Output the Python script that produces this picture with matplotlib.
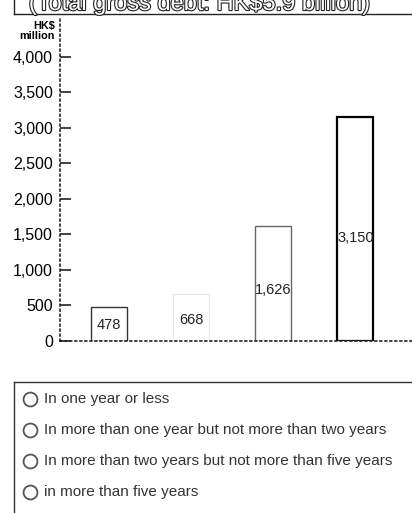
import matplotlib
matplotlib.use("Agg")
import matplotlib.pyplot as plt
import matplotlib.patheffects as pe

# data
periods = [
    "In one year or less",
    "In more than one year but not more than two years",
    "In more than two years but not more than five years",
    "in more than five years",
]
debt = [478, 668, 1626, 3150]
debt_labels = ["478", "668", "1,626", "3,150"]
label_heights = [225, 290, 720, 1450]
yticks = [0, 500, 1000, 1500, 2000, 2500, 3000, 3500, 4000]
title = "(Total gross debt: HK$5.9 billion)"

plt.rcParams["font.family"] = ["Liberation Sans", "DejaVu Sans"]

W, H = 412, 513
fig = plt.figure(figsize=(W / 100, H / 100), dpi=100)

# title box, cut off at the top as in the source
fig.text(200 / W, 1 - 10 / H, title, ha="center", va="baseline", fontsize=17,
         color="white",
         path_effects=[pe.withStroke(linewidth=1.6, foreground="#222222")])
fig.add_artist(plt.Line2D([14 / W, 1], [1 - 14 / H, 1 - 14 / H], color="#222222", lw=1))
fig.add_artist(plt.Line2D([14 / W, 14 / W], [1 - 14 / H, 1], color="#222222", lw=1))

# main bar chart
ax = fig.add_axes([60 / W, 1 - 341 / H, 1 - 60 / W, (341 - 19) / H])
x = range(len(debt))
edges = ["#333333", "#e6e6e6", "#666666", "#000000"]
widths = [1.0, 0.8, 1.0, 1.6]
ax.bar(x, debt, width=0.44, color="white", edgecolor=edges, linewidth=widths)
for xi, lab, yh in zip(x, debt_labels, label_heights):
    ax.text(xi, yh, lab, ha="center", va="center", fontsize=10.5, color="#222222")

ax.set_xlim(-0.6, 3.69)
ax.set_ylim(0, 4535)
ax.set_xticks([])
ax.set_yticks(yticks)
ax.set_yticklabels([f"{v:,}" for v in yticks], fontsize=11.5)
ax.tick_params(axis="y", direction="in", length=8, width=1.2, pad=5, color="#222222")
for side in ["top", "right"]:
    ax.spines[side].set_visible(False)
for side in ["left", "bottom"]:
    ax.spines[side].set_linestyle((0, (1, 2)))
    ax.spines[side].set_linewidth(1.2)
    ax.spines[side].set_color("#222222")
ax.text(-5 / 352, 1 - 2 / 322, "HK$\nmillion", transform=ax.transAxes, ha="right",
        va="top", fontsize=7.8, fontweight="bold", linespacing=1.0)

# legend box
lg = fig.add_axes([14 / W, 0, 1 - 14 / W, (H - 382) / H])
lg.set_xlim(14, W)
lg.set_ylim(H, 382)
lg.set_xticks([])
lg.set_yticks([])
for side in ["bottom", "right"]:
    lg.spines[side].set_visible(False)
for side in ["left", "top"]:
    lg.spines[side].set_linewidth(1)
    lg.spines[side].set_color("#333333")
rows = [399, 430, 461, 492]
for yr, name in zip(rows, periods):
    lg.scatter([30], [yr], s=100, facecolor="white", edgecolor="#555555", linewidth=1.3)
    lg.text(44, yr, name, ha="left", va="center", fontsize=11, color="#333333")

fig.savefig("out.png", dpi=100)
